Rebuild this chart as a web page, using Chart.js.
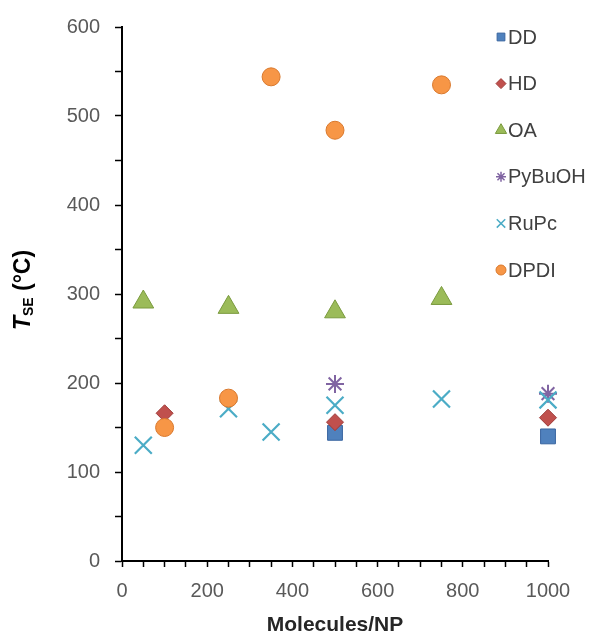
<!DOCTYPE html>
<html>
<head>
<meta charset="utf-8">
<script src="https://cdn.jsdelivr.net/npm/chart.js@4.4.1/dist/chart.umd.min.js"></script>
<style>
    html, body { margin: 0; padding: 0; background: #ffffff; }
    #wrap { width: 593px; height: 639px; position: relative; }
</style>
</head>
<body>
<div id="wrap"><canvas id="chart"></canvas></div>
<script>
// values
const seriesNames = ['DD', 'HD', 'OA', 'PyBuOH', 'RuPc', 'DPDI'];
const ddX = [500, 1000];
const ddY = [144, 140];
const hdX = [100, 500, 1000];
const hdY = [166, 156, 161];
const oaX = [50, 250, 500, 750];
const oaY = [291, 285, 280, 295];
const pyX = [500, 1000];
const pyY = [199, 188];
const rupcX = [50, 250, 350, 500, 750, 1000];
const rupcY = [130, 171, 145, 175, 182, 181];
const dpdiX = [100, 250, 350, 500, 750];
const dpdiY = [150, 183, 544, 484, 535];
const xTicks = [0, 200, 400, 600, 800, 1000];
const yTicks = [0, 100, 200, 300, 400, 500, 600];

const FONT = "'Liberation Sans', Arial, sans-serif";

// marker looks (Excel 2010 palette)
const styles = [
    { shape: 'rect',     fill: '#4F81BD', edge: '#3A66A0', r: 10.5, w: 1,   lr: 5.5 },
    { shape: 'rectRot',  fill: '#C0504D', edge: '#9E3B38', r: 8.5,  w: 1,   lr: 5 },
    { shape: 'triangle', fill: '#9BBB59', edge: '#7A9A3E', r: 12,   w: 1,   lr: 6.5 },
    { shape: 'star',     fill: '#8064A2', edge: '#8064A2', r: 9,    w: 2,   lr: 5 },
    { shape: 'crossRot', fill: '#4BACC6', edge: '#4BACC6', r: 12,   w: 2.2, lr: 6 },
    { shape: 'circle',   fill: '#F79646', edge: '#D9782C', r: 9,    w: 1,   lr: 5 },
];

const pairs = (xs, ys) => xs.map((x, i) => ({ x, y: ys[i] }));
const seriesData = [
    pairs(ddX, ddY),
    pairs(hdX, hdY),
    pairs(oaX, oaY),
    pairs(pyX, pyY),
    pairs(rupcX, rupcY),
    pairs(dpdiX, dpdiY),
];

const datasets = seriesNames.map((name, i) => ({
    label: name,
    data: seriesData[i],
    pointStyle: styles[i].shape,
    pointRadius: styles[i].r,
    pointBackgroundColor: styles[i].fill,
    pointBorderColor: styles[i].edge,
    pointBorderWidth: styles[i].w,
    showLine: false,
    clip: false,
    order: seriesNames.length - i, // later series on top, like Excel
}));

// rotated y title with subscript, drawn as text
const yTitlePlugin = {
    id: 'yTitle',
    afterDraw(chart) {
        const ctx = chart.ctx;
        const parts = [
            { t: 'T', font: `italic bold 23px ${FONT}`, dy: 0 },
            { t: 'SE', font: `bold 14px ${FONT}`, dy: 5 },
            { t: ' (°C)', font: `bold 23px ${FONT}`, dy: 0 },
        ];
        ctx.save();
        let total = 0;
        parts.forEach(p => { ctx.font = p.font; p.w = ctx.measureText(p.t).width; total += p.w; });
        ctx.translate(24, 290);
        ctx.rotate(-Math.PI / 2);
        ctx.fillStyle = '#000000';
        ctx.textBaseline = 'middle';
        ctx.textAlign = 'left';
        let x = -total / 2;
        parts.forEach(p => {
            ctx.font = p.font;
            ctx.fillText(p.t, x, p.dy);
            x += p.w;
        });
        ctx.restore();
    }
};

// legend sitting inside the plot at top right
const legendPlugin = {
    id: 'insideLegend',
    afterDraw(chart) {
        const ctx = chart.ctx;
        ctx.save();
        seriesNames.forEach((name, i) => {
            const y = 37 + i * 46.6;
            const s = styles[i];
            ctx.fillStyle = s.fill;
            ctx.strokeStyle = s.edge;
            ctx.lineWidth = s.shape === 'star' || s.shape === 'crossRot' ? 1.5 : 1;
            Chart.helpers.drawPoint(ctx, { pointStyle: s.shape, radius: s.lr, rotation: 0, borderWidth: ctx.lineWidth }, 501, y);
            ctx.font = `20px ${FONT}`;
            ctx.fillStyle = '#404040';
            ctx.textBaseline = 'middle';
            ctx.textAlign = 'left';
            ctx.fillText(name, 508, y + 1);
        });
        ctx.restore();
    }
};

new Chart(document.getElementById('chart'), {
    type: 'scatter',
    data: { datasets },
    options: {
        responsive: true,
        maintainAspectRatio: false,
        animation: false,
        layout: { padding: { left: 50, right: 45, top: 27, bottom: 0 } },
        plugins: {
            legend: { display: false },
            tooltip: { enabled: false },
        },
        scales: {
            x: {
                type: 'linear',
                min: 0,
                max: 1000,
                afterFit: (s) => { s.height = 78; },
                ticks: {
                    stepSize: 50,
                    autoSkip: false,
                    maxRotation: 0,
                    padding: 12,
                    color: '#595959',
                    font: { family: FONT, size: 20 },
                    callback: (v) => xTicks.includes(v) ? String(v) : '',
                },
                grid: { drawOnChartArea: false, drawTicks: true, tickLength: 6, color: '#000000', tickWidth: 1.5 },
                border: { display: true, color: '#000000', width: 2 },
                title: {
                    display: true,
                    text: 'Molecules/NP',
                    color: '#262626',
                    font: { family: FONT, size: 21, weight: 'bold' },
                    padding: { top: 0, bottom: 1 },
                },
            },
            y: {
                type: 'linear',
                min: 0,
                max: 600,
                afterFit: (s) => { s.width = 72; },
                ticks: {
                    stepSize: 50,
                    autoSkip: false,
                    padding: 15,
                    color: '#595959',
                    font: { family: FONT, size: 20 },
                    callback: (v) => yTicks.includes(v) ? String(v) : '',
                },
                grid: { drawOnChartArea: false, drawTicks: true, tickLength: 7, color: '#000000', tickWidth: 1.5 },
                border: { display: true, color: '#000000', width: 2 },
            },
        },
    },
    plugins: [yTitlePlugin, legendPlugin],
});
</script>
</body>
</html>
